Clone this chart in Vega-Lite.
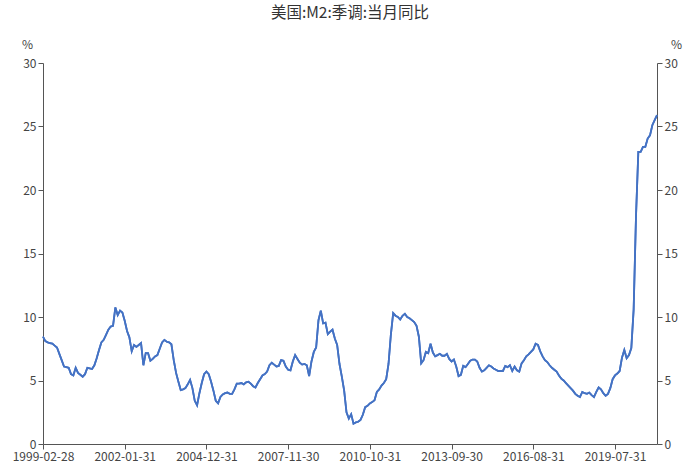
{
  "$schema": "https://vega.github.io/schema/vega-lite/v6.json",
  "autosize": {"type": "none"},
  "width": 614,
  "height": 381,
  "padding": {"left": 43, "top": 63, "right": 35, "bottom": 24},
  "background": "white",
  "title": {"text": "美国:M2:季调:当月同比", "anchor": "middle", "offset": 17, "fontSize": 15.5, "fontWeight": "normal", "color": "#333333", "font": "Noto Sans CJK SC"},
  "config": {
    "view": {"stroke": null},
    "axis": {"labelFont": "Noto Sans CJK SC", "titleFont": "Noto Sans CJK SC", "labelFontSize": 12, "labelColor": "#444444", "domainColor": "#555555", "tickColor": "#555555", "grid": false, "titleFontWeight": "normal", "titleColor": "#444444", "titleFontSize": 12}
  },
  "data": {"values": [
    {"date":"1999-02-28","value":8.45},{"date":"1999-03-31","value":8.1},{"date":"1999-04-30","value":8.0},{"date":"1999-05-31","value":7.95},{"date":"1999-06-30","value":7.9},{"date":"1999-07-31","value":7.75},{"date":"1999-08-31","value":7.6},{"date":"1999-09-30","value":7.1},{"date":"1999-10-31","value":6.6},{"date":"1999-11-30","value":6.1},{"date":"1999-12-31","value":6.05},
    {"date":"2000-01-31","value":6.0},{"date":"2000-02-29","value":5.5},{"date":"2000-03-31","value":5.4},{"date":"2000-04-30","value":6.0},{"date":"2000-05-31","value":5.6},{"date":"2000-06-30","value":5.45},{"date":"2000-07-31","value":5.3},{"date":"2000-08-31","value":5.5},{"date":"2000-09-30","value":6.0},{"date":"2000-10-31","value":5.95},{"date":"2000-11-30","value":5.9},{"date":"2000-12-31","value":6.2},
    {"date":"2001-01-31","value":6.75},{"date":"2001-02-28","value":7.4},{"date":"2001-03-31","value":8.0},{"date":"2001-04-30","value":8.2},{"date":"2001-05-31","value":8.6},{"date":"2001-06-30","value":9.0},{"date":"2001-07-31","value":9.25},{"date":"2001-08-31","value":9.3},{"date":"2001-09-30","value":10.75},{"date":"2001-10-31","value":10.15},{"date":"2001-11-30","value":10.5},{"date":"2001-12-31","value":10.35},
    {"date":"2002-01-31","value":9.7},{"date":"2002-02-28","value":8.9},{"date":"2002-03-31","value":8.4},{"date":"2002-04-30","value":7.3},{"date":"2002-05-31","value":7.8},{"date":"2002-06-30","value":7.65},{"date":"2002-07-31","value":7.8},{"date":"2002-08-31","value":7.95},{"date":"2002-09-30","value":6.2},{"date":"2002-10-31","value":7.15},{"date":"2002-11-30","value":7.15},{"date":"2002-12-31","value":6.55},
    {"date":"2003-01-31","value":6.7},{"date":"2003-02-28","value":6.9},{"date":"2003-03-31","value":7.0},{"date":"2003-04-30","value":7.5},{"date":"2003-05-31","value":8.0},{"date":"2003-06-30","value":8.2},{"date":"2003-07-31","value":8.05},{"date":"2003-08-31","value":8.0},{"date":"2003-09-30","value":7.85},{"date":"2003-10-31","value":6.6},{"date":"2003-11-30","value":5.6},{"date":"2003-12-31","value":4.9},
    {"date":"2004-01-31","value":4.25},{"date":"2004-02-29","value":4.3},{"date":"2004-03-31","value":4.4},{"date":"2004-04-30","value":4.7},{"date":"2004-05-31","value":5.05},{"date":"2004-06-30","value":4.4},{"date":"2004-07-31","value":3.4},{"date":"2004-08-31","value":3.05},{"date":"2004-09-30","value":4.0},{"date":"2004-10-31","value":4.8},{"date":"2004-11-30","value":5.5},{"date":"2004-12-31","value":5.7},
    {"date":"2005-01-31","value":5.5},{"date":"2005-02-28","value":4.9},{"date":"2005-03-31","value":4.2},{"date":"2005-04-30","value":3.4},{"date":"2005-05-31","value":3.2},{"date":"2005-06-30","value":3.7},{"date":"2005-07-31","value":3.9},{"date":"2005-08-31","value":4.0},{"date":"2005-09-30","value":4.05},{"date":"2005-10-31","value":3.95},{"date":"2005-11-30","value":3.95},{"date":"2005-12-31","value":4.3},
    {"date":"2006-01-31","value":4.75},{"date":"2006-02-28","value":4.75},{"date":"2006-03-31","value":4.8},{"date":"2006-04-30","value":4.7},{"date":"2006-05-31","value":4.85},{"date":"2006-06-30","value":4.9},{"date":"2006-07-31","value":4.75},{"date":"2006-08-31","value":4.55},{"date":"2006-09-30","value":4.45},{"date":"2006-10-31","value":4.8},{"date":"2006-11-30","value":5.1},{"date":"2006-12-31","value":5.4},
    {"date":"2007-01-31","value":5.5},{"date":"2007-02-28","value":5.7},{"date":"2007-03-31","value":6.2},{"date":"2007-04-30","value":6.4},{"date":"2007-05-31","value":6.25},{"date":"2007-06-30","value":6.1},{"date":"2007-07-31","value":6.15},{"date":"2007-08-31","value":6.6},{"date":"2007-09-30","value":6.55},{"date":"2007-10-31","value":6.1},{"date":"2007-11-30","value":5.85},{"date":"2007-12-31","value":5.8},
    {"date":"2008-01-31","value":6.5},{"date":"2008-02-29","value":7.0},{"date":"2008-03-31","value":6.7},{"date":"2008-04-30","value":6.4},{"date":"2008-05-31","value":6.25},{"date":"2008-06-30","value":6.3},{"date":"2008-07-31","value":6.2},{"date":"2008-08-31","value":5.35},{"date":"2008-09-30","value":6.5},{"date":"2008-10-31","value":7.25},{"date":"2008-11-30","value":7.6},{"date":"2008-12-31","value":9.75},
    {"date":"2009-01-31","value":10.5},{"date":"2009-02-28","value":9.5},{"date":"2009-03-31","value":9.55},{"date":"2009-04-30","value":8.65},{"date":"2009-05-31","value":8.85},{"date":"2009-06-30","value":9.0},{"date":"2009-07-31","value":8.3},{"date":"2009-08-31","value":7.8},{"date":"2009-09-30","value":6.3},{"date":"2009-10-31","value":5.3},{"date":"2009-11-30","value":4.2},{"date":"2009-12-31","value":2.5},
    {"date":"2010-01-31","value":2.0},{"date":"2010-02-28","value":2.35},{"date":"2010-03-31","value":1.6},{"date":"2010-04-30","value":1.7},{"date":"2010-05-31","value":1.75},{"date":"2010-06-30","value":1.9},{"date":"2010-07-31","value":2.3},{"date":"2010-08-31","value":2.9},{"date":"2010-09-30","value":3.0},{"date":"2010-10-31","value":3.2},{"date":"2010-11-30","value":3.3},{"date":"2010-12-31","value":3.45},
    {"date":"2011-01-31","value":4.1},{"date":"2011-02-28","value":4.3},{"date":"2011-03-31","value":4.6},{"date":"2011-04-30","value":4.8},{"date":"2011-05-31","value":5.1},{"date":"2011-06-30","value":6.3},{"date":"2011-07-31","value":8.6},{"date":"2011-08-31","value":10.3},{"date":"2011-09-30","value":10.1},{"date":"2011-10-31","value":10.0},{"date":"2011-11-30","value":9.8},{"date":"2011-12-31","value":10.1},
    {"date":"2012-01-31","value":10.25},{"date":"2012-02-29","value":10.0},{"date":"2012-03-31","value":9.9},{"date":"2012-04-30","value":9.75},{"date":"2012-05-31","value":9.6},{"date":"2012-06-30","value":9.3},{"date":"2012-07-31","value":8.45},{"date":"2012-08-31","value":6.35},{"date":"2012-09-30","value":6.6},{"date":"2012-10-31","value":7.25},{"date":"2012-11-30","value":7.15},{"date":"2012-12-31","value":7.9},
    {"date":"2013-01-31","value":7.2},{"date":"2013-02-28","value":6.9},{"date":"2013-03-31","value":7.0},{"date":"2013-04-30","value":7.1},{"date":"2013-05-31","value":6.95},{"date":"2013-06-30","value":6.95},{"date":"2013-07-31","value":7.1},{"date":"2013-08-31","value":6.7},{"date":"2013-09-30","value":6.5},{"date":"2013-10-31","value":6.65},{"date":"2013-11-30","value":6.1},{"date":"2013-12-31","value":5.35},
    {"date":"2014-01-31","value":5.45},{"date":"2014-02-28","value":6.15},{"date":"2014-03-31","value":6.05},{"date":"2014-04-30","value":6.3},{"date":"2014-05-31","value":6.55},{"date":"2014-06-30","value":6.65},{"date":"2014-07-31","value":6.65},{"date":"2014-08-31","value":6.5},{"date":"2014-09-30","value":6.0},{"date":"2014-10-31","value":5.7},{"date":"2014-11-30","value":5.8},{"date":"2014-12-31","value":6.0},
    {"date":"2015-01-31","value":6.2},{"date":"2015-02-28","value":6.1},{"date":"2015-03-31","value":5.95},{"date":"2015-04-30","value":5.85},{"date":"2015-05-31","value":5.75},{"date":"2015-06-30","value":5.75},{"date":"2015-07-31","value":5.75},{"date":"2015-08-31","value":6.15},{"date":"2015-09-30","value":6.05},{"date":"2015-10-31","value":6.2},{"date":"2015-11-30","value":5.75},{"date":"2015-12-31","value":6.1},
    {"date":"2016-01-31","value":5.8},{"date":"2016-02-29","value":5.7},{"date":"2016-03-31","value":6.35},{"date":"2016-04-30","value":6.6},{"date":"2016-05-31","value":6.9},{"date":"2016-06-30","value":7.05},{"date":"2016-07-31","value":7.25},{"date":"2016-08-31","value":7.45},{"date":"2016-09-30","value":7.9},{"date":"2016-10-31","value":7.8},{"date":"2016-11-30","value":7.3},{"date":"2016-12-31","value":6.9},
    {"date":"2017-01-31","value":6.6},{"date":"2017-02-28","value":6.45},{"date":"2017-03-31","value":6.2},{"date":"2017-04-30","value":6.0},{"date":"2017-05-31","value":5.85},{"date":"2017-06-30","value":5.7},{"date":"2017-07-31","value":5.4},{"date":"2017-08-31","value":5.15},{"date":"2017-09-30","value":5.0},{"date":"2017-10-31","value":4.8},{"date":"2017-11-30","value":4.6},{"date":"2017-12-31","value":4.4},
    {"date":"2018-01-31","value":4.2},{"date":"2018-02-28","value":3.95},{"date":"2018-03-31","value":3.8},{"date":"2018-04-30","value":3.7},{"date":"2018-05-31","value":4.1},{"date":"2018-06-30","value":4.0},{"date":"2018-07-31","value":3.95},{"date":"2018-08-31","value":4.05},{"date":"2018-09-30","value":3.85},{"date":"2018-10-31","value":3.7},{"date":"2018-11-30","value":4.1},{"date":"2018-12-31","value":4.45},
    {"date":"2019-01-31","value":4.3},{"date":"2019-02-28","value":4.0},{"date":"2019-03-31","value":3.8},{"date":"2019-04-30","value":3.95},{"date":"2019-05-31","value":4.4},{"date":"2019-06-30","value":5.1},{"date":"2019-07-31","value":5.4},{"date":"2019-08-31","value":5.55},{"date":"2019-09-30","value":5.75},{"date":"2019-10-31","value":6.8},{"date":"2019-11-30","value":7.4},{"date":"2019-12-31","value":6.75},
    {"date":"2020-01-31","value":7.0},{"date":"2020-02-29","value":7.55},{"date":"2020-03-31","value":10.6},{"date":"2020-04-30","value":17.9},{"date":"2020-05-31","value":23.0},{"date":"2020-06-30","value":23.0},{"date":"2020-07-31","value":23.4},{"date":"2020-08-31","value":23.4},{"date":"2020-09-30","value":24.05},{"date":"2020-10-31","value":24.3},{"date":"2020-11-30","value":25.1},{"date":"2020-12-31","value":25.5},
    {"date":"2021-01-31","value":25.9}
  ]},
  "encoding": {
    "x": {"field": "date", "type": "ordinal", "sort": null, "scale": {"type": "point", "padding": 0},
      "axis": {"title": null, "labelAngle": 0, "values": ["1999-02-28","2002-01-31","2004-12-31","2007-11-30","2010-10-31","2013-09-30","2016-08-31","2019-07-31"], "labelOverlap": false, "tickSize": 5, "labelPadding": 2}}
  },
  "layer": [
    {"mark": {"type": "line", "color": "#4472C4", "strokeWidth": 1.8},
     "encoding": {"y": {"field": "value", "type": "quantitative", "scale": {"domain": [0, 30]},
       "axis": {"orient": "left", "values": [0,5,10,15,20,25,30], "title": "%", "titleAngle": 0, "titleX": -16, "titleY": -12, "titleAlign": "center", "titleBaseline": "bottom", "tickSize": 5}}}},
    {"mark": {"type": "line", "color": "#4472C4", "strokeWidth": 1.8},
     "encoding": {"y": {"field": "value", "type": "quantitative", "scale": {"domain": [0, 30]},
       "axis": {"orient": "right", "values": [0,5,10,15,20,25,30], "title": "%", "titleAngle": 0, "titleX": 19, "titleY": -12, "titleAlign": "center", "titleBaseline": "bottom", "tickSize": 5}}}}
  ],
  "resolve": {"scale": {"y": "independent"}}
}
